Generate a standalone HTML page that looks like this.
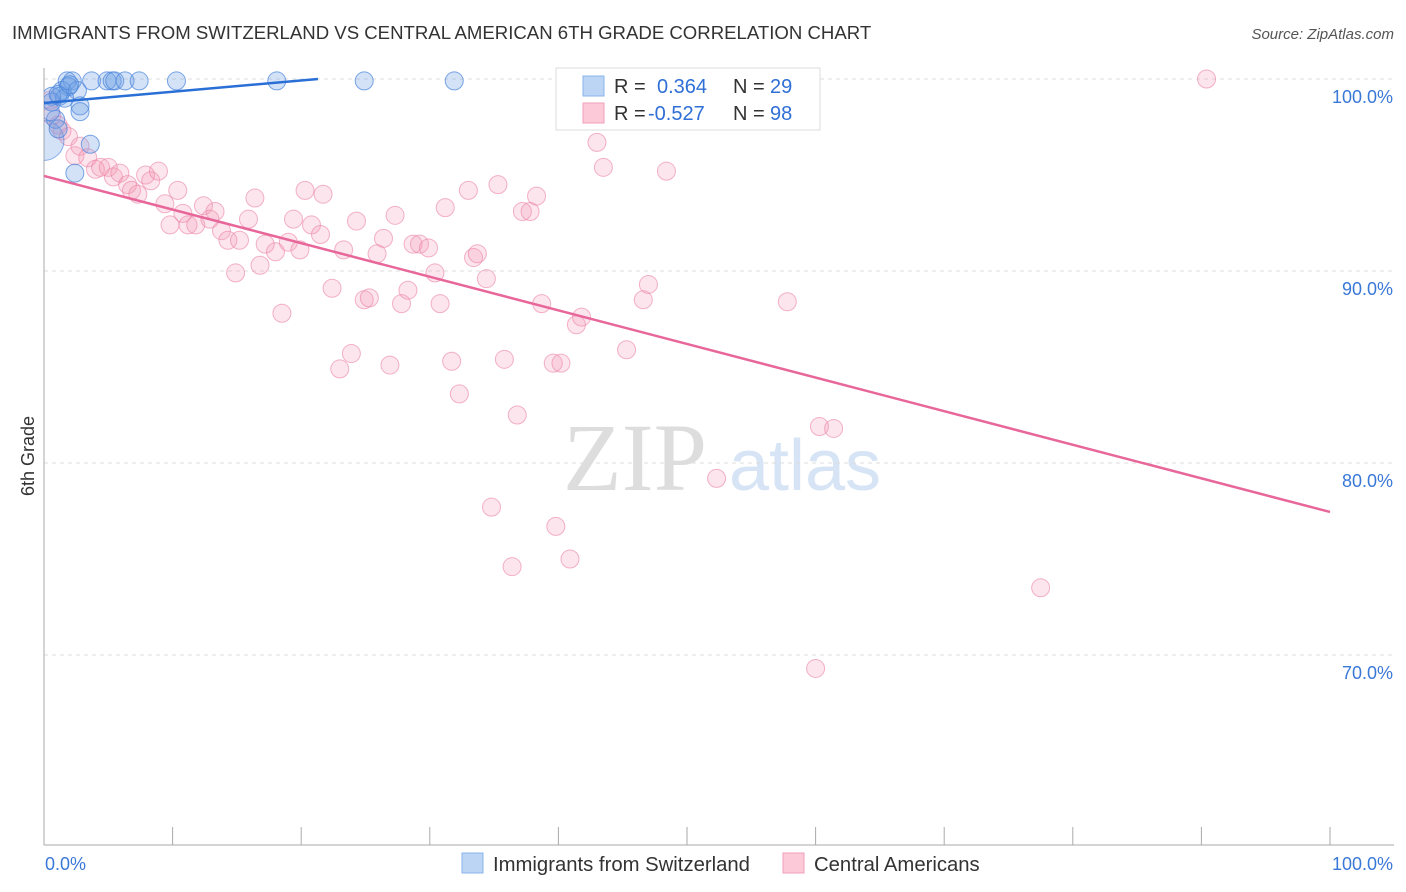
<!DOCTYPE html>
<html><head><meta charset="utf-8"><style>
body{margin:0;background:#fff;font-family:"Liberation Sans",sans-serif}
svg{display:block}
</style></head><body>
<svg id="chart" width="1406" height="892" xmlns="http://www.w3.org/2000/svg">
<defs><clipPath id="plotclip"><rect x="44" y="0" width="1362" height="845"/></clipPath></defs>
<text x="12" y="39" font-size="18.6" fill="#333">IMMIGRANTS FROM SWITZERLAND VS CENTRAL AMERICAN 6TH GRADE CORRELATION CHART</text>
<text x="1394" y="39" font-size="15" fill="#555" font-style="italic" text-anchor="end">Source: ZipAtlas.com</text>
<text x="34" y="456" font-size="18" fill="#333" text-anchor="middle" transform="rotate(-90 34 456)">6th Grade</text>
<g><text x="635" y="490" font-size="96" fill="#ddd" font-family="Liberation Serif,serif" text-anchor="middle">ZIP</text><text x="805" y="490" font-size="72" fill="#d6e4f5" text-anchor="middle">atlas</text></g>
<g id="grid"></g><g id="axes"></g><g id="pts" clip-path="url(#plotclip)"></g><g id="trend"></g>
<g>
<rect x="556" y="68" width="264" height="62" fill="#fff" stroke="#ddd"/>
<rect x="583" y="76" width="21" height="20" fill="#bcd5f5" stroke="#8ab4ea"/>
<rect x="583" y="103" width="21" height="20" fill="#fcc9d8" stroke="#f2a0ba"/>
<text x="614" y="93" font-size="20" fill="#333">R = </text><text x="657" y="93" font-size="20" fill="#2f6fd6">0.364</text>
<text x="733" y="93" font-size="20" fill="#333">N = </text><text x="770" y="93" font-size="20" fill="#2f6fd6">29</text>
<text x="614" y="120" font-size="20" fill="#333">R = </text><text x="648" y="120" font-size="20" fill="#2f6fd6">-0.527</text>
<text x="733" y="120" font-size="20" fill="#333">N = </text><text x="770" y="120" font-size="20" fill="#2f6fd6">98</text>
</g>
<g>
<rect x="462" y="853" width="21" height="20" fill="#bcd5f5" stroke="#8ab4ea"/>
<text x="493" y="871" font-size="20.3" fill="#333">Immigrants from Switzerland</text>
<rect x="783" y="853" width="21" height="20" fill="#fcc9d8" stroke="#f2a0ba"/>
<text x="814" y="871" font-size="20.3" fill="#333">Central Americans</text>
</g>
</svg>
<script>
const yTicks=[100,90,80,70];
const yTickLabels=["100.0%","90.0%","80.0%","70.0%"];
const xTickLabels=["0.0%","100.0%"];
const swissX=[0.9,1.8,2.2,3.7,4.9,5.3,5.5,6.3,7.4,10.3,18.1,24.9,31.9,1.4,1.9,2.6,1.2,0.6,2.8,2.8,0.5,1.1,3.6,2.4,1.6,0.6,1.1,2.0];
const swissY=[97.9,99.9,99.9,99.9,99.9,99.9,99.9,99.9,99.9,99.9,99.9,99.9,99.9,99.4,99.6,99.4,99.1,98.8,98.6,98.3,98.3,97.4,96.6,95.1,99.0,99.1,99.2,99.7];
const caX=[0.5,0.6,1.1,1.4,1.9,2.4,2.8,3.4,4.0,4.4,5.0,5.4,5.9,6.5,6.8,7.3,7.9,8.3,8.9,9.4,9.8,10.4,10.8,11.2,11.8,12.4,12.9,13.3,13.8,14.3,14.9,15.2,15.9,16.4,16.8,17.2,18.0,18.5,19.0,19.4,19.9,20.3,20.8,21.5,21.7,22.4,23.0,23.3,23.9,24.3,24.9,25.3,25.9,26.4,26.9,27.3,27.8,28.3,28.7,29.2,29.9,30.4,30.8,31.2,31.7,32.3,33.0,33.4,33.7,34.4,34.8,35.3,35.8,36.4,36.8,37.2,37.8,38.3,38.7,39.6,39.8,40.2,40.9,41.4,41.8,43.0,43.5,45.3,46.6,47.0,48.4,52.3,57.8,60.0,60.3,61.4,77.5,90.4];
const caY=[98.9,98.1,97.6,97.3,97.0,96.0,96.5,95.9,95.3,95.4,95.4,94.9,95.1,94.5,94.2,94.0,95.0,94.7,95.2,93.5,92.4,94.2,93.0,92.4,92.4,93.4,92.7,93.1,92.1,91.6,89.9,91.6,92.7,93.8,90.3,91.4,91.0,87.8,91.5,92.7,91.1,94.2,92.4,91.9,94.0,89.1,84.9,91.1,85.7,92.6,88.5,88.6,90.9,91.7,85.1,92.9,88.3,89.0,91.4,91.4,91.2,89.9,88.3,93.3,85.3,83.6,94.2,90.7,90.9,89.6,77.7,94.5,85.4,74.6,82.5,93.1,93.1,93.9,88.3,85.2,76.7,85.2,75.0,87.2,87.6,96.7,95.4,85.9,88.5,89.3,95.2,79.2,88.4,69.3,81.9,81.8,73.5,100.0];
const swissTrend=[[0,98.75],[21.3,100]];
const caTrend=[[0,94.95],[100,77.45]];
const NS="http://www.w3.org/2000/svg";
const X=v=>44+v*12.86, Y=v=>79+(100-v)*19.2;
function mk(t,a,p){const e=document.createElementNS(NS,t);for(const k in a)e.setAttribute(k,a[k]);document.getElementById(p).appendChild(e);return e;}
yTicks.forEach((t,i)=>{
 const l=mk('line',{x1:44,x2:1394,y1:Y(t),y2:Y(t),stroke:'#ddd','stroke-dasharray':'4 4'},'grid');
 
 
 const tx=mk('text',{x:1393,y:Y(t)+24,'font-size':18,fill:'#3a78d8','text-anchor':'end'},'grid');
 tx.textContent=yTickLabels[i];
 
 
});
const ax=mk('line',{x1:44,x2:1394,y1:845,y2:845,stroke:'#aaa'},'axes');


const ay=mk('line',{x1:44,x2:44,y1:68,y2:845,stroke:'#aaa'},'axes');


for(let i=0;i<=10;i++){const t=mk('line',{x1:X(i*10),x2:X(i*10),y1:827,y2:845,stroke:'#aaa'},'axes');
 
 }
[[0,'start',45],[100,'end',1393]].forEach((d,i)=>{const t=mk('text',{x:d[2],y:870,'font-size':18,fill:'#3a78d8','text-anchor':d[1]},'axes');t.textContent=xTickLabels[i];
 
 });
caX.forEach((x,i)=>{const c=mk('circle',{cx:X(x),cy:Y(caY[i]),r:9,fill:'rgba(245,150,180,0.25)',stroke:'rgba(235,130,165,0.6)'},'pts');
 
 });
const big=mk('circle',{cx:X(0),cy:Y(96.8),r:20,fill:'rgba(110,160,230,0.3)',stroke:'rgba(70,130,220,0.6)'},'pts');


swissX.forEach((x,i)=>{const c=mk('circle',{cx:X(x),cy:Y(swissY[i]),r:9,fill:'rgba(110,160,230,0.3)',stroke:'rgba(70,130,220,0.7)'},'pts');
 
 });
const t1=mk('line',{x1:X(swissTrend[0][0]),y1:Y(swissTrend[0][1]),x2:X(swissTrend[1][0]),y2:Y(swissTrend[1][1]),stroke:'#2a6fd6','stroke-width':2.5},'trend');


const t2=mk('line',{x1:X(caTrend[0][0]),y1:Y(caTrend[0][1]),x2:X(caTrend[1][0]),y2:Y(caTrend[1][1]),stroke:'#e8679a','stroke-width':2.5},'trend');


</script>
</body></html>
